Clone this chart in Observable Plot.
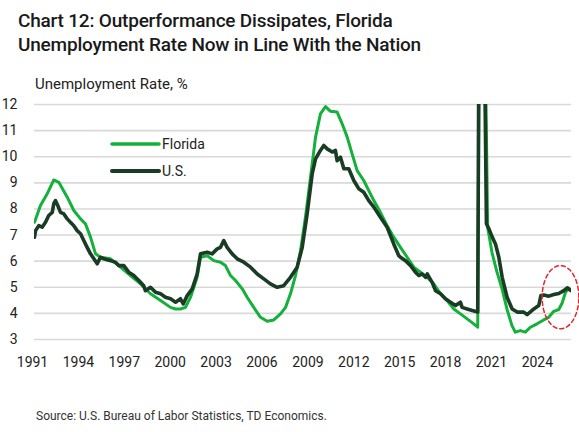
<!DOCTYPE html>
<html><head><meta charset="utf-8">
<script src="https://cdn.jsdelivr.net/npm/d3@7"></script>
<script src="https://cdn.jsdelivr.net/npm/@observablehq/plot@0.6"></script>
<style>
body{margin:0;background:#fff;font-family:Roboto,"Noto Sans",sans-serif;}
#wrap{position:relative;width:579px;height:432px;overflow:hidden;background:#fff;}
#title{position:absolute;left:18px;top:9px;font-size:19px;line-height:24px;font-weight:500;color:#1a1a1a;letter-spacing:-0.2px;white-space:nowrap;}
#ylab{position:absolute;left:35px;top:75px;font-size:15px;color:#222;white-space:nowrap;}
#chart{position:absolute;left:0;top:92px;}
#legend{position:absolute;left:0;top:0;pointer-events:none;}
#source{position:absolute;left:36px;top:409px;font-size:12px;color:#333;white-space:nowrap;}
</style></head>
<body><div id="wrap">
<div id="title">Chart 12: Outperformance Dissipates, Florida<br>Unemployment Rate Now in Line With the Nation</div>
<div id="ylab">Unemployment Rate, %</div>
<div id="chart"></div>
<svg id="legend" width="579" height="432"></svg>
<div id="source">Source: U.S. Bureau of Labor Statistics, TD Economics.</div>
</div>
<script>
// Tick labels
const xTicks = [1991,1994,1997,2000,2003,2006,2009,2012,2015,2018,2021,2024];
const yTicks = [3,4,5,6,7,8,9,10,11,12];

// Florida unemployment rate (decimal year, %)
const flYears = [1991.00,1991.39,1991.83,1992.26,1992.59,1993.14,1993.57,1994.01,1994.33,1994.66,1994.99,1995.31,1995.97,1996.62,1997.27,1997.93,1998.58,1999.24,1999.89,2000.22,2000.54,2000.87,2001.20,2001.63,2001.85,2002.29,2002.72,2003.16,2003.48,2003.81,2004.14,2004.58,2004.90,2005.33,2005.77,2006.21,2006.64,2007.08,2007.41,2007.73,2008.06,2008.39,2008.71,2009.04,2009.37,2009.69,2010.02,2010.35,2010.78,2011.11,2011.44,2011.76,2012.09,2012.52,2012.85,2013.18,2013.61,2014.05,2014.48,2014.92,2015.36,2015.79,2016.23,2016.67,2017.10,2017.54,2017.97,2018.41,2018.84,2019.28,2019.71,2019.97,2020.07,2020.30,2020.50,2020.62,2020.90,2021.23,2021.56,2021.88,2022.21,2022.43,2022.76,2023.08,2023.41,2023.85,2024.28,2024.61,2024.94,2025.27,2025.49,2025.71,2025.93];
const flRates = [7.49,8.13,8.58,9.11,9.02,8.45,7.94,7.62,7.43,6.92,6.28,6.15,6.09,5.77,5.45,5.13,4.75,4.49,4.23,4.17,4.17,4.23,4.62,5.38,6.15,6.21,6.02,5.96,5.83,5.45,5.26,4.94,4.62,4.23,3.85,3.70,3.75,3.98,4.23,4.75,5.45,6.41,7.68,9.21,10.75,11.64,11.92,11.74,11.71,11.26,10.75,10.11,9.47,9.09,8.70,8.32,7.87,7.36,6.92,6.53,6.15,5.77,5.58,5.38,5.13,4.75,4.49,4.17,3.98,3.79,3.60,3.47,14.5,14.0,12.6,7.30,6.34,5.58,4.94,4.17,3.53,3.28,3.34,3.28,3.47,3.60,3.75,3.85,4.08,4.15,4.40,4.81,4.95];

// U.S. unemployment rate (decimal year, %)
const usYears = [1991.00,1991.07,1991.28,1991.50,1991.72,1991.93,1992.16,1992.26,1992.37,1992.52,1992.70,1992.92,1993.14,1993.35,1993.57,1993.79,1994.01,1994.22,1994.44,1994.66,1994.88,1995.10,1995.31,1995.53,1995.97,1996.29,1996.51,1996.84,1997.16,1997.49,1997.82,1998.14,1998.25,1998.58,1998.91,1999.24,1999.56,1999.89,2000.22,2000.54,2000.72,2000.98,2001.31,2001.63,2001.85,2002.29,2002.61,2002.94,2003.16,2003.37,2003.59,2003.92,2004.25,2004.68,2005.12,2005.56,2005.99,2006.42,2006.86,2007.29,2007.73,2008.17,2008.50,2008.82,2009.15,2009.37,2009.69,2009.91,2010.13,2010.46,2010.67,2010.78,2011.00,2011.22,2011.54,2011.87,2012.20,2012.52,2012.85,2013.18,2013.61,2014.05,2014.48,2014.81,2014.92,2015.25,2015.58,2015.90,2016.12,2016.34,2016.56,2016.67,2016.99,2017.21,2017.54,2017.86,2018.19,2018.52,2018.84,2018.95,2019.28,2019.61,2019.97,2020.05,2020.25,2020.44,2020.54,2020.70,2020.92,2021.13,2021.35,2021.57,2021.89,2022.22,2022.55,2022.98,2023.20,2023.64,2023.96,2024.10,2024.29,2024.62,2024.94,2025.27,2025.60,2025.82,2026.08];
const usRates = [6.92,7.17,7.36,7.30,7.49,7.75,7.87,8.20,8.32,8.13,7.87,7.81,7.62,7.49,7.36,7.17,7.05,6.79,6.53,6.28,6.09,5.90,6.15,6.09,6.02,5.96,5.83,5.83,5.58,5.45,5.26,5.06,4.87,5.00,4.81,4.75,4.62,4.56,4.43,4.56,4.36,4.68,4.94,5.51,6.28,6.34,6.28,6.47,6.53,6.79,6.53,6.28,6.09,5.96,5.77,5.51,5.32,5.13,5.00,5.06,5.38,5.77,6.53,7.81,9.34,9.92,10.24,10.43,10.30,10.18,10.24,9.85,9.98,9.54,9.54,9.09,8.77,8.64,8.32,8.07,7.68,7.30,6.66,6.21,6.15,6.02,5.83,5.58,5.45,5.51,5.38,5.51,5.19,4.87,4.75,4.56,4.43,4.30,4.43,4.23,4.17,4.11,4.05,15.0,14.7,12.8,7.43,7.24,6.92,6.66,6.15,5.38,4.62,4.17,4.05,4.05,3.95,4.17,4.30,4.68,4.70,4.66,4.72,4.76,4.87,4.98,4.87];

// Highlight annotation (data units)
const highlightCenter = {year: 2025.38, rate: 4.62};
const highlightRadius = {years: 1.2, rate: 1.21};

const seriesNames = ["Florida", "U.S."];
const seriesColors = ["#13b13a", "#1a3c24"];

const fl = flYears.map((y, i) => ({year: y, rate: flRates[i]}));
const us = usYears.map((y, i) => ({year: y, rate: usRates[i]}));
const ellipse = d3.range(0, 73).map(k => {
  const t = k / 72 * 2 * Math.PI;
  return {year: highlightCenter.year + highlightRadius.years * Math.cos(t),
          rate: highlightCenter.rate + highlightRadius.rate * Math.sin(t)};
});

const chart = Plot.plot({
  width: 579, height: 290,
  marginLeft: 34, marginRight: 8, marginTop: 12, marginBottom: 43,
  x: {domain: [1991, 2026.1]},
  y: {domain: [3, 12]},
  style: {fontFamily: "Roboto, 'Noto Sans', sans-serif", fontSize: "14px", color: "#222", background: "#fff", overflow: "visible"},
  marks: [
    Plot.ruleY(yTicks, {stroke: "#d9d9d9", strokeWidth: 1.6}),
    Plot.axisY(yTicks, {tickSize: 0, tickPadding: 17, label: null, fontSize: 14}),
    Plot.axisX(xTicks, {tickSize: 0, tickPadding: 18, label: null, tickFormat: d => String(d), fontSize: 14, dx: -2}),
    Plot.line(fl, {x: "year", y: "rate", stroke: seriesColors[0], strokeWidth: 3, clip: true}),
    Plot.line(us, {x: "year", y: "rate", stroke: seriesColors[1], strokeWidth: 3.6, clip: true}),
    Plot.line(ellipse, {x: "year", y: "rate", stroke: "#e3262b", strokeWidth: 1.5, strokeDasharray: "4,3", curve: "catmull-rom"})
  ]
});
document.getElementById("chart").appendChild(chart);

// Legend
const leg = d3.select("#legend");
const legY = [144, 171];
seriesNames.forEach((name, i) => {
  leg.append("line").attr("x1", 112).attr("x2", 159).attr("y1", legY[i]).attr("y2", legY[i])
    .attr("stroke", seriesColors[i]).attr("stroke-width", i === 0 ? 3.5 : 4).attr("stroke-linecap", "round");
  leg.append("text").attr("x", 162).attr("y", legY[i] + 5).text(name)
    .attr("font-family", "Roboto, 'Noto Sans', sans-serif").attr("font-size", 14).attr("fill", "#222");
});
</script>
</body></html>
